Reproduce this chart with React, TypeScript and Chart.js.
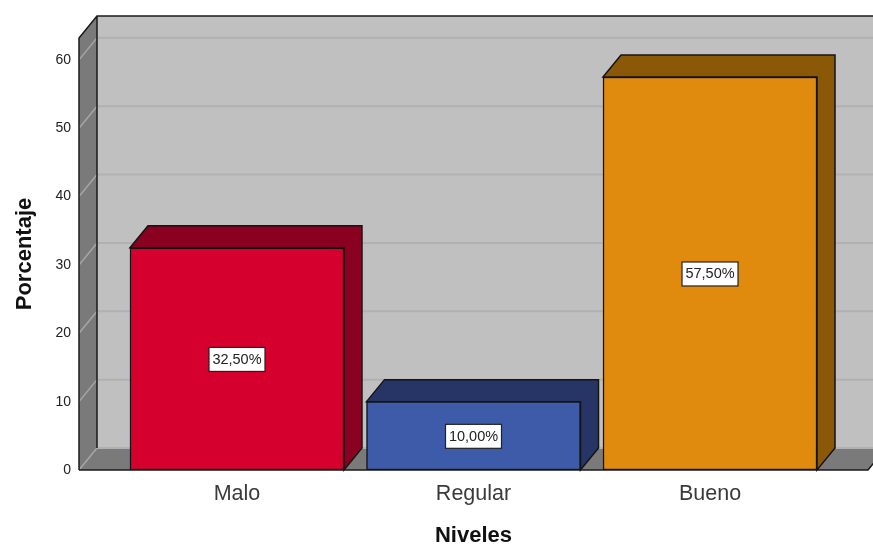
import React, { useEffect, useRef } from "react";
import { Chart, registerables } from "chart.js";

Chart.register(...registerables);

const categories = ["Malo", "Regular", "Bueno"];
const porcentajes = [32.5, 10.0, 57.5];
const etiquetas = ["32,50%", "10,00%", "57,50%"];
const frontColors = ["#D6002E", "#3E5BA9", "#E08A0E"];
const depthColors = ["#890021", "#263566", "#8B5807"];

const DX = 18;
const DY = 22;
const FONT = "'Liberation Sans', Arial, sans-serif";

const plano3D = {
  id: "plano3D",
  beforeDatasetsDraw(chart: any) {
    const { ctx, chartArea: a, scales } = chart;
    const y = scales.y;
    const meta = chart.getDatasetMeta(0);
    ctx.save();
    // back wall
    ctx.fillStyle = "#C0C0C0";
    ctx.fillRect(a.left + DX, a.top - DY, a.right - a.left + DX, a.bottom - a.top);
    // side wall
    ctx.fillStyle = "#7A7A7A";
    ctx.beginPath();
    ctx.moveTo(a.left, a.top);
    ctx.lineTo(a.left + DX, a.top - DY);
    ctx.lineTo(a.left + DX, a.bottom - DY);
    ctx.lineTo(a.left, a.bottom);
    ctx.closePath();
    ctx.fill();
    // floor
    ctx.beginPath();
    ctx.moveTo(a.left, a.bottom);
    ctx.lineTo(a.left + DX, a.bottom - DY);
    ctx.lineTo(a.right + DX, a.bottom - DY);
    ctx.lineTo(a.right, a.bottom);
    ctx.closePath();
    ctx.fill();
    // gridlines
    ctx.lineWidth = 2;
    y.ticks.forEach((t: any) => {
      const py = y.getPixelForValue(t.value);
      ctx.strokeStyle = "#B1B1B1";
      ctx.beginPath();
      ctx.moveTo(a.left + DX, py - DY);
      ctx.lineTo(a.right + DX, py - DY);
      ctx.stroke();
      ctx.strokeStyle = "#A6A6A6";
      ctx.lineWidth = 1.5;
      ctx.beginPath();
      ctx.moveTo(a.left, py);
      ctx.lineTo(a.left + DX, py - DY);
      ctx.stroke();
      ctx.lineWidth = 2;
    });
    // outlines
    ctx.strokeStyle = "#1A1A1A";
    ctx.lineWidth = 1.5;
    ctx.beginPath();
    ctx.moveTo(a.left, a.bottom);
    ctx.lineTo(a.left, a.top);
    ctx.lineTo(a.left + DX, a.top - DY);
    ctx.lineTo(a.right + DX, a.top - DY);
    ctx.moveTo(a.left + DX, a.top - DY);
    ctx.lineTo(a.left + DX, a.bottom - DY);
    ctx.moveTo(a.left, a.bottom);
    ctx.lineTo(a.right, a.bottom);
    ctx.lineTo(a.right + DX, a.bottom - DY);
    ctx.stroke();
    // bar depth faces
    meta.data.forEach((bar: any, i: number) => {
      const l = bar.x - bar.width / 2;
      const r = bar.x + bar.width / 2;
      const t = bar.y;
      const b = bar.base;
      ctx.fillStyle = depthColors[i];
      ctx.strokeStyle = "#141414";
      ctx.lineWidth = 1.5;
      ctx.beginPath();
      ctx.moveTo(l, t);
      ctx.lineTo(l + DX, t - DY);
      ctx.lineTo(r + DX, t - DY);
      ctx.lineTo(r + DX, b - DY);
      ctx.lineTo(r, b);
      ctx.lineTo(r, t);
      ctx.closePath();
      ctx.fill();
      ctx.stroke();
    });
    ctx.restore();
  },
  afterDatasetsDraw(chart: any) {
    const { ctx } = chart;
    const meta = chart.getDatasetMeta(0);
    ctx.save();
    ctx.font = `14.5px ${FONT}`;
    ctx.textAlign = "center";
    ctx.textBaseline = "middle";
    meta.data.forEach((bar: any, i: number) => {
      const cy = (bar.y + bar.base) / 2;
      const w = 56;
      const h = 24;
      ctx.fillStyle = "#FFFFFF";
      ctx.strokeStyle = "#222222";
      ctx.lineWidth = 1.2;
      ctx.fillRect(bar.x - w / 2, cy - h / 2 + 0.5, w, h);
      ctx.strokeRect(bar.x - w / 2, cy - h / 2 + 0.5, w, h);
      ctx.fillStyle = "#222222";
      ctx.fillText(etiquetas[i], bar.x, cy + 1);
    });
    ctx.restore();
  },
};

export default function App() {
  const ref = useRef<HTMLCanvasElement | null>(null);
  useEffect(() => {
    const chart = new Chart(ref.current as HTMLCanvasElement, {
      type: "bar",
      plugins: [plano3D],
      data: {
        datasets: [
          {
            data: categories.map((_, i) => ({ x: i, y: porcentajes[i] })),
            backgroundColor: frontColors,
            borderColor: "#141414",
            borderWidth: 1.5,
            borderSkipped: false,
            barThickness: 214,
          } as any,
        ],
      },
      options: {
        animation: false,
        responsive: false,
        layout: { padding: { top: 38, right: 5, left: 0, bottom: 0 } },
        plugins: { legend: { display: false }, tooltip: { enabled: false } },
        scales: {
          x: {
            type: "linear",
            offset: false,
            min: -0.668,
            max: 2.668,
            grid: { display: false, drawTicks: false },
            border: { display: false },
            afterBuildTicks: (s: any) => {
              s.ticks = categories.map((_, i) => ({ value: i }));
            },
            afterFit: (s: any) => {
              s.height = 76;
            },
            ticks: {
              autoSkip: false,
              maxRotation: 0,
              padding: 11,
              color: "#3A3A3A",
              font: { family: FONT, size: 21.5 },
              callback: (v: any) => categories[v as number],
            },
            title: {
              display: true,
              text: "Niveles",
              color: "#111111",
              font: { family: FONT, size: 22, weight: "bold" },
              padding: { top: 0, bottom: -3 },
            },
          },
          y: {
            type: "linear",
            min: 0,
            max: 63.2,
            grid: { display: false, drawTicks: false },
            border: { display: false },
            afterFit: (s: any) => {
              s.width = 79;
            },
            ticks: {
              stepSize: 10,
              includeBounds: false,
              padding: 8,
              color: "#222222",
              font: { family: FONT, size: 14 },
            },
            title: {
              display: true,
              text: "Porcentaje",
              color: "#111111",
              font: { family: FONT, size: 22, weight: "bold" },
              padding: { top: 12, bottom: 0 },
            },
          },
        },
      } as any,
    });
    return () => chart.destroy();
  }, []);
  return (
    <canvas
      ref={ref}
      width={873}
      height={546}
      style={{ position: "fixed", left: 0, top: 0, display: "block", background: "#FFFFFF" }}
    />
  );
}
